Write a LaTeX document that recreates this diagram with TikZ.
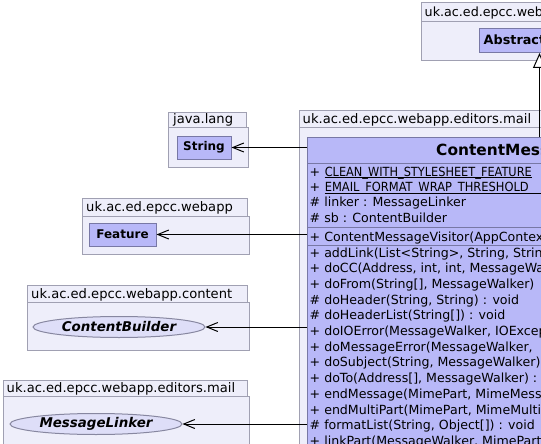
\documentclass[tikz,border=0pt]{standalone}
\usepackage{fontspec}
\setmainfont{DejaVu Sans}
\usetikzlibrary{arrows.meta,shapes.geometric}

\definecolor{pkgfill}{RGB}{238,238,250}
\definecolor{pkgline}{RGB}{160,160,178}
\definecolor{clsfill}{RGB}{184,184,248}
\definecolor{clsline}{RGB}{120,120,165}
\definecolor{ifcfill}{RGB}{222,222,248}
\definecolor{ifcline}{RGB}{135,135,160}

\tikzset{
  pkg/.style={draw=pkgline, fill=pkgfill, line width=1pt, inner sep=0, anchor=north west},
  pkglabel/.style={anchor=base west, inner sep=0, font=\fontsize{13.1}{15}\selectfont},
  cls/.style={draw=clsline, fill=clsfill, line width=1pt, inner sep=0,
    font=\fontsize{12}{14}\selectfont\bfseries},
  ifc/.style={ellipse, draw=ifcline, fill=ifcfill, line width=1pt, inner sep=0,
    minimum width=172pt, minimum height=21pt,
    font=\fontsize{13.4}{15}\selectfont\bfseries\itshape},
  mem/.style={anchor=base west, inner sep=0, font=\fontsize{12.6}{14}\selectfont},
  sep/.style={draw=clsline, line width=1pt},
  uline/.style={draw=black, line width=0.9pt},
  dep/.style={-{Straight Barb[length=11pt,width=9pt]}, line width=1pt},
  gen/.style={-{Triangle[open,length=15pt,width=13pt,fill=white]}, line width=1pt}
}

\begin{document}
\begin{tikzpicture}[x=1pt,y=-1pt]
\useasboundingbox (0,0) rectangle (541,444);
\clip (0,0) rectangle (541,444);

% package uk.ac.ed.epcc.webapp (upper right) with the base class
\node[pkg, minimum width=160pt, minimum height=19pt] (tabTop) at (421,2) {};
\node[pkg, minimum width=160pt, minimum height=39pt] (pkgTop) at (421,21) {};
\node[pkglabel, font=\fontsize{12.7}{15}\selectfont] (lblTop) at (424.5,16.2) {uk.ac.ed.epcc.webapp};
\node[cls, anchor=north west, minimum width=120pt, minimum height=24pt] (abs) at (479,28) {};
\node[mem, font=\fontsize{12.8}{14}\selectfont\bfseries] (absName) at (483.5,44.6) {Abstract};

% package java.lang
\node[pkg, minimum width=78pt, minimum height=15pt] (tabLang) at (168,112) {};
\node[pkg, minimum width=80pt, minimum height=40pt] (pkgLang) at (168,127) {};
\node[pkglabel] (lblLang) at (173,124) {java.lang};
\node[cls, minimum width=54pt, minimum height=23pt] (str) at (204,147.5) {String};

% package uk.ac.ed.epcc.webapp
\node[pkg, minimum width=165pt, minimum height=18pt] (tabApp) at (82,198) {};
\node[pkg, minimum width=167pt, minimum height=38pt] (pkgApp) at (82,216) {};
\node[pkglabel] (lblApp) at (86,211.5) {uk.ac.ed.epcc.webapp};
\node[cls, minimum width=67pt, minimum height=23pt] (feat) at (122.5,234.5) {Feature};

% package uk.ac.ed.epcc.webapp.content
\node[pkg, minimum width=220pt, minimum height=17pt] (tabCont) at (27,285) {};
\node[pkg, minimum width=222pt, minimum height=48pt] (pkgCont) at (27,302) {};
\node[pkglabel] (lblCont) at (31,298) {uk.ac.ed.epcc.webapp.content};
\node[ifc] (cb) at (119,327) {ContentBuilder};

% package uk.ac.ed.epcc.webapp.editors.mail (left)
\node[pkg, minimum width=244pt, minimum height=16pt] (tabMailL) at (3,380) {};
\node[pkg, minimum width=246pt, minimum height=80pt] (pkgMailL) at (3,396) {};
\node[pkglabel] (lblMailL) at (6.5,392.5) {uk.ac.ed.epcc.webapp.editors.mail};
\node[ifc] (ml) at (96,424) {MessageLinker};

% package uk.ac.ed.epcc.webapp.editors.mail (right) with the visitor class
\node[pkg, minimum width=300pt, minimum height=17pt] (tabMail) at (299,110) {};
\node[pkg, minimum width=300pt, minimum height=360pt] (pkgMail) at (299,127) {};
\node[pkglabel] (lblMail) at (302.5,123) {uk.ac.ed.epcc.webapp.editors.mail};

\node[cls, anchor=north west, minimum width=470pt, minimum height=360pt] (cmv) at (307,137) {};
\node[mem, font=\fontsize{15.4}{18}\selectfont\bfseries] (cmvName) at (436,155.6) {ContentMessageVisitor};
\draw[sep] (cmv.west |- 0,163) -- (cmv.east |- 0,163);
\draw[sep] (cmv.west |- 0,227) -- (cmv.east |- 0,227);
\draw[sep] (cmv.west |- 0,245) -- (cmv.east |- 0,245);

% attributes (static ones underlined)
\node[mem] (a1v) at (309.5,176.3) {+};
\node[mem] (a1) at (324.6,176.3) {\scalebox{0.9}[1]{CLEAN\_WITH\_STYLESHEET\_FEATURE}};
\draw[uline] ([yshift=-1.6pt]a1.base west) -- ([yshift=-1.6pt]a1.base east);
\node[mem] (a2v) at (309.5,191.6) {+};
\node[mem] (a2) at (324.6,191.6) {\scalebox{0.91}[1]{EMAIL\_FORMAT\_WRAP\_THRESHOLD}};
\draw[uline] ([yshift=-1.6pt]a2.base west) -- ([yshift=-1.6pt]cmv.east |- a2.base);
\node[mem] (a3) at (309.5,206.9) {\# linker : MessageLinker};
\node[mem] (a4) at (309.5,222.2) {\# sb : ContentBuilder};

% constructor
\node[mem] (c1) at (309.5,241.2) {+ ContentMessageVisitor(AppContext)};

% operations
\foreach \t [count=\i] in {
  {+ addLink(List<String>, String, String)},
  {+ doCC(Address, int, int, MessageWalker)},
  {+ doFrom(String[], MessageWalker)},
  {\# doHeader(String, String) : void},
  {\# doHeaderList(String[]) : void},
  {+ doIOError(MessageWalker, IOException)},
  {+ doMessageError(MessageWalker, },
  {+ doSubject(String, MessageWalker)},
  {+ doTo(Address[], MessageWalker) :},
  {+ endMessage(MimePart, MimeMessage)},
  {+ endMultiPart(MimePart, MimeMultipart)},
  {\# formatList(String, Object[]) : void},
  {+ linkPart(MessageWalker, MimePart)}}
  \node[mem] (op\i) at (309.5,{257.3+15.67*(\i-1)}) {\t};

% relations
\draw[dep] (cmv.west |- str.east) -- (str.east);
\draw[dep] (cmv.west |- feat.east) -- (feat.east);
\draw[dep] (cmv.west |- cb.east) -- (cb.east);
\draw[dep] (cmv.west |- ml.east) -- (ml.east);
\coordinate (gx) at (539.5,0);
\draw[gen] (gx |- cmv.north) -- (gx |- abs.south);
\end{tikzpicture}
\end{document}
